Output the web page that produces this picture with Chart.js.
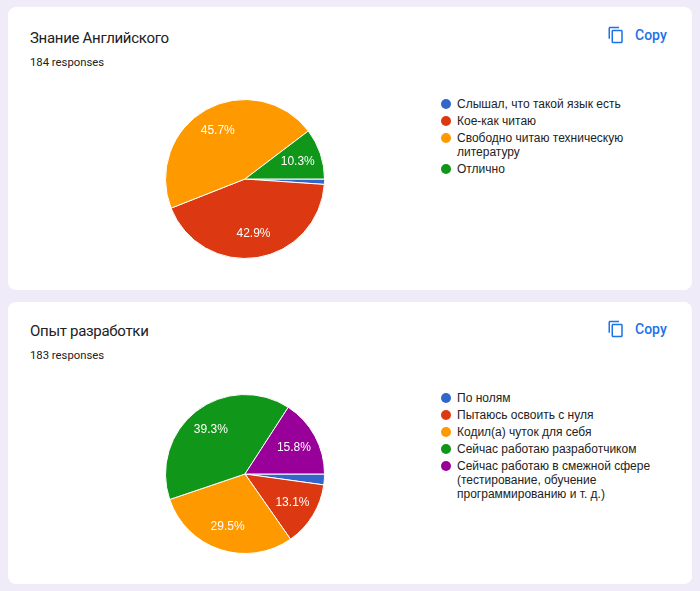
<!DOCTYPE html>
<html>
<head>
<meta charset="utf-8">
<script src="https://cdn.jsdelivr.net/npm/chart.js@4.4.0/dist/chart.umd.min.js"></script>
<style>
  body { margin: 0; width: 700px; height: 591px; background: #f0ebf8; position: relative; overflow: hidden; font-family: Roboto, Arial, sans-serif; }
  .card { position: absolute; left: 8px; width: 684px; background: #fff; border-radius: 8px; }
  .title { position: absolute; left: 22px; font-size: 15px; letter-spacing: -0.3px; color: #202124; white-space: nowrap; }
  .count { position: absolute; left: 22px; font-size: 11.3px; color: #202124; }
  .copy { position: absolute; left: 599px; color: #1a73e8; font-size: 14px; font-weight: 500; display: flex; align-items: center; }
  .copy svg { margin-right: 10px; }
  canvas { position: absolute; }
  .legend { position: absolute; left: 441px; width: 228px; font-family: "Liberation Sans", Arial, sans-serif; font-size: 12px; color: #222; }
  .legend .item { position: relative; padding-left: 16px; line-height: 14px; margin-bottom: 3px; }
  .legend .dot { position: absolute; left: 0; top: 2px; width: 10px; height: 10px; border-radius: 50%; }
</style>
</head>
<body>
<div class="card" style="top:7px;height:283px;">
  <div class="title" style="top:21.5px;">Знание Английского</div>
  <div class="count" style="top:48.5px;">184 responses</div>
  <div class="copy" style="top:19px;"><svg width="18" height="18" viewBox="0 0 24 24"><path fill="#1a73e8" d="M16 1H4c-1.1 0-2 .9-2 2v14h2V3h12V1zm3 4H8c-1.1 0-2 .9-2 2v14c0 1.1.9 2 2 2h11c1.1 0 2-.9 2-2V7c0-1.1-.9-2-2-2zm0 16H8V7h11v14z"/></svg>Copy</div>
</div>
<div class="card" style="top:302px;height:282px;">
  <div class="title" style="top:19.5px;">Опыт разработки</div>
  <div class="count" style="top:47px;">183 responses</div>
  <div class="copy" style="top:18px;"><svg width="18" height="18" viewBox="0 0 24 24"><path fill="#1a73e8" d="M16 1H4c-1.1 0-2 .9-2 2v14h2V3h12V1zm3 4H8c-1.1 0-2 .9-2 2v14c0 1.1.9 2 2 2h11c1.1 0 2-.9 2-2V7c0-1.1-.9-2-2-2zm0 16H8V7h11v14z"/></svg>Copy</div>
</div>
<canvas id="englishChart" width="160" height="160" style="left:165px;top:99px;"></canvas>
<div id="englishLegend" class="legend" style="top:97px;"></div>
<canvas id="devChart" width="160" height="160" style="left:165px;top:394px;"></canvas>
<div id="devLegend" class="legend" style="top:391px;"></div>
<script>
// Знание Английского (184 responses)
const englishLabels = ['Слышал, что такой язык есть', 'Кое-как читаю', 'Свободно читаю техническую литературу', 'Отлично'];
const englishCounts = [2, 79, 84, 19];
const englishColors = ['#3366cc', '#dc3912', '#ff9900', '#109618'];

// Опыт разработки (183 responses)
const devLabels = ['По нолям', 'Пытаюсь освоить с нуля', 'Кодил(а) чуток для себя', 'Сейчас работаю разработчиком', 'Сейчас работаю в смежной сфере (тестирование, обучение программированию и т. д.)'];
const devCounts = [4, 24, 54, 72, 29];
const devColors = ['#3366cc', '#dc3912', '#ff9900', '#109618', '#990099'];

// percentage text inside the slices, small ones skipped
const sliceLabels = {
  id: 'sliceLabels',
  afterDatasetsDraw(chart) {
    let ctx = chart.ctx;
    let ds = chart.data.datasets[0];
    let total = ds.data.reduce((a, b) => a + b, 0);
    chart.getDatasetMeta(0).data.forEach((arc, i) => {
      let pct = ds.data[i] / total * 100;
      if (pct < 5) return;
      let p = arc.getProps(['x', 'y', 'startAngle', 'endAngle', 'outerRadius'], true);
      let mid = (p.startAngle + p.endAngle) / 2;
      let r = p.outerRadius * 0.7;
      ctx.save();
      ctx.fillStyle = '#fff';
      ctx.font = '12px "Liberation Sans", Arial, sans-serif';
      ctx.textAlign = 'center';
      ctx.textBaseline = 'middle';
      ctx.fillText(pct.toFixed(1) + '%', p.x + Math.cos(mid) * r, p.y + Math.sin(mid) * r);
      ctx.restore();
    });
  }
};

function drawPie(canvasId, legendId, labels, counts, colors) {
  let chart = new Chart(document.getElementById(canvasId), {
    type: 'pie',
    data: {
      labels: labels,
      datasets: [{
        data: counts,
        backgroundColor: colors,
        borderColor: '#fff',
        borderWidth: 1,
        hoverOffset: 0
      }]
    },
    options: {
      responsive: false,
      animation: false,
      rotation: 90,
      layout: { padding: 0 },
      plugins: {
        legend: { display: false },
        tooltip: { enabled: false }
      }
    },
    plugins: [sliceLabels]
  });
  // legend on the right, built from the chart's own labels/colors
  let legend = document.getElementById(legendId);
  chart.data.labels.forEach((label, i) => {
    let item = document.createElement('div');
    item.className = 'item';
    let dot = document.createElement('span');
    dot.className = 'dot';
    dot.style.background = chart.data.datasets[0].backgroundColor[i];
    item.appendChild(dot);
    item.appendChild(document.createTextNode(label));
    legend.appendChild(item);
  });
  return chart;
}

drawPie('englishChart', 'englishLegend', englishLabels, englishCounts, englishColors);
drawPie('devChart', 'devLegend', devLabels, devCounts, devColors);
</script>
</body>
</html>
